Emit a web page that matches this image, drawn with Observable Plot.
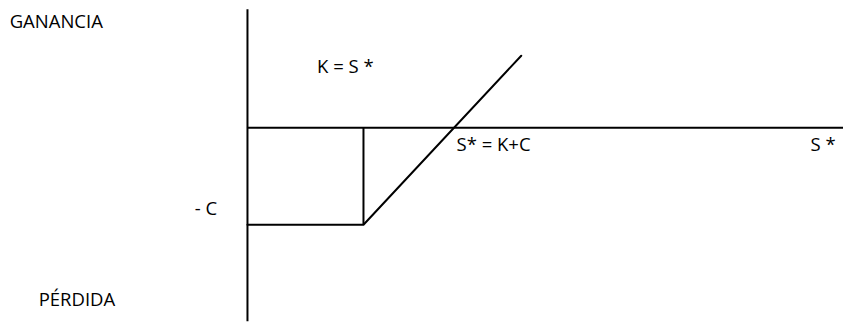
<!DOCTYPE html>
<html>
<head>
<meta charset="utf-8">
<script src="https://cdn.jsdelivr.net/npm/d3@7"></script>
<script src="https://cdn.jsdelivr.net/npm/@observablehq/plot@0.6"></script>
<style>
  html, body { margin: 0; padding: 0; background: #fff; }
</style>
</head>
<body>
<div id="chart"></div>
<script>
// Call option payoff diagram (strike K, premium C)
const strike = 100;          // K
const premium = 78;          // C
const priceMax = 236;        // end of the payoff line (S)
const axisSpan = [0, 514];   // horizontal axis S range
const profitSpan = [-156, 95]; // vertical axis range

const payoffS = [0, strike, priceMax];
const payoffP = [-premium, -premium, priceMax - strike - premium];

const labelTexts = ["GANANCIA", "K = S *", "- C", "PÉRDIDA", "S* = K+C", "S *"];

const payoff = payoffS.map((s, i) => ({S: s, P: payoffP[i]}));
const labelAnchors = [
  {S: -205, P: 80},
  {S: 60, P: 43.7},
  {S: -45.4, P: -70.5},
  {S: -180, P: -143},
  {S: 180.2, P: -19},
  {S: 485.3, P: -19}
];
const labels = labelTexts.map((t, i) => ({text: t, ...labelAnchors[i]}));

const chart = Plot.plot({
  width: 843,
  height: 322,
  margin: 0,
  style: {fontFamily: "'Open Sans', sans-serif", background: "#fff"},
  x: {domain: [-212.9, 513.8], axis: null},
  y: {domain: [-156.6, 102.4], axis: null},
  marks: [
    Plot.ruleX([0], {y1: profitSpan[0], y2: profitSpan[1], stroke: "#000", strokeWidth: 2}),
    Plot.ruleY([0], {x1: axisSpan[0], x2: axisSpan[1], stroke: "#000", strokeWidth: 2}),
    Plot.ruleX([strike], {y1: -premium, y2: 0, stroke: "#000", strokeWidth: 2}),
    Plot.line(payoff, {x: "S", y: "P", stroke: "#000", strokeWidth: 2}),
    Plot.text(labels, {x: "S", y: "P", text: "text", textAnchor: "start", lineAnchor: "bottom",
      fontSize: 18.5, fill: "#000"})
  ]
});
document.getElementById("chart").appendChild(chart);
</script>
</body>
</html>
